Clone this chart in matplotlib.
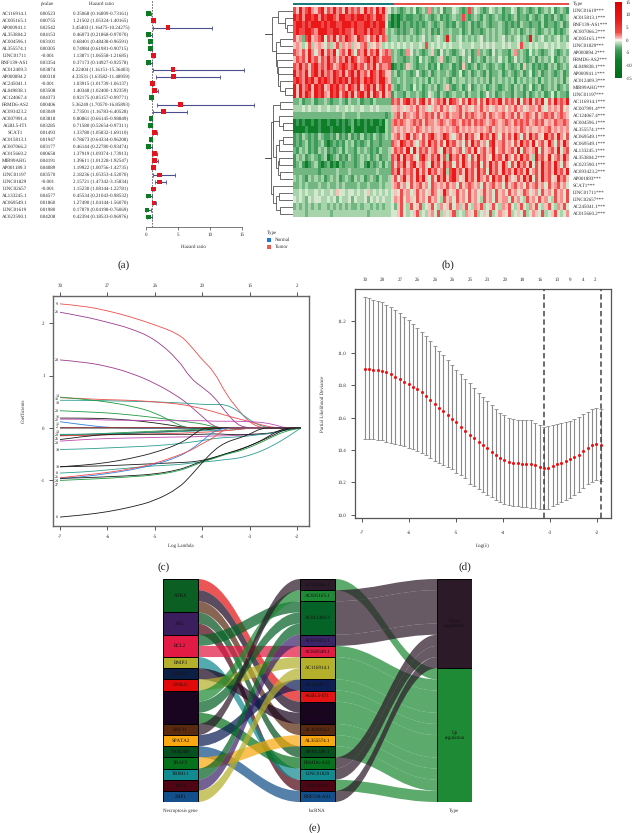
import matplotlib
matplotlib.use("Agg")
import matplotlib.pyplot as plt
import numpy as np
from matplotlib.cm import ScalarMappable
from matplotlib.colors import LinearSegmentedColormap, ListedColormap, Normalize
from matplotlib.patches import PathPatch, Rectangle
from matplotlib.path import Path

plt.rcParams["font.family"] = ["Liberation Serif", "DejaVu Serif"]
plt.rcParams["text.hinting"] = "no_hinting"
plt.rcParams["text.hinting_factor"] = 1

W, H = 634, 833
TXT = "#2a2a2a"
FS = 3.8

# (a) forest plot
lnc_names = ["AC116914.1", "AC005165.1", "AP000941.1", "AL353804.2", "AC004596.1", "AL355574.1",
             "LINC01711", "RNF139-AS1", "AC012409.3", "AP000894.2", "AC245041.1", "AL049838.1",
             "AC124067.4", "FRMD6-AS2", "AC093423.2", "AC007991.4", "AGBL5-IT1", "SCAT1",
             "AC015813.1", "AC007066.2", "AC015660.2", "MIR99AHG", "AP001189.3", "LINC01197",
             "LINC01829", "LINC02657", "AL133245.1", "AC069549.1", "LINC01619", "AC023590.1"]
pvalues = ["0.00523", "0.00755", "0.02542", "0.04153", "0.03101", "0.00305", "<0.001", "0.03354",
           "0.03874", "0.00318", "<0.001", "0.03508", "0.04373", "0.00406", "0.03049", "0.03818",
           "0.03285", "0.01493", "0.01947", "0.03177", "0.00658", "0.04191", "0.04089", "0.03570",
           "<0.001", "<0.001", "0.04577", "0.01860", "0.01980", "0.04208"]
hr = [0.35068, 1.21502, 3.45403, 0.46073, 0.68401, 0.74984, 1.13871, 0.37173, 4.22404, 4.33531,
      1.03915, 1.40348, 0.92175, 5.36249, 2.73501, 0.80861, 0.71580, 1.33780, 0.78673, 0.46144,
      1.37919, 1.39611, 1.19922, 2.18236, 2.15721, 1.15230, 0.45534, 1.27490, 0.17870, 0.42394]
hr_low = [0.16809, 1.05324, 1.16475, 0.21868, 0.48438, 0.61981, 1.06558, 0.14927, 1.16151, 1.63582,
          1.01739, 1.02400, 0.85157, 1.70570, 1.16783, 0.66145, 0.52654, 1.05832, 0.64334, 0.22780,
          1.09374, 1.01228, 1.00756, 1.05353, 1.47342, 1.08144, 0.21043, 1.04144, 0.04198, 0.18533]
hr_high = [0.73161, 1.40165, 10.24275, 0.97070, 0.96591, 0.90715, 1.21685, 0.92578, 15.36403, 11.48959,
           1.06137, 1.92359, 0.99771, 16.85893, 6.40528, 0.98849, 0.97311, 1.69110, 0.96208, 0.93474,
           1.73913, 1.92547, 1.42735, 4.52070, 3.15834, 1.22781, 0.98532, 1.56070, 0.76069, 0.96976]
hr_ticks = [0, 5, 10, 15]

# (b) heatmap, one digit per stripe block: 0 dark green ... 8 red
heat_rows = [
    "7586786578 5768675867 6758675868 5423212324 1232623241 2243212724 3212432312 2431232123 1232412321",
    "8786887868 7887688778 7887876887 5201012112 2123212312 1232272123 2132123212 1231221321 2312132123",
    "7887878887 8788778887 8778878788 4101021212 1212321232 1213212312 1232122321 2121322122 1312212312",
    "7877887688 8778878776 8778687787 3232121232 1232312132 2322312312 2123232321 2323123232 1232312123",
    "7562785678 4768576876 5876476857 6233232323 2342323432 8323423232 3423232342 3234232832 3423234232",
    "5653473565 4635736563 5467354653 4343434343 3437343434 3433433343 3434343343 4334733434 3343434334",
    "7657586468 5768467586 4768576846 7623212642 3212352142 3212342312 6232142322 1362321423 2123421232",
    "5767586757 6867576868 7567868757 7723221232 1423212352 1232132412 3213232423 1242321231 3232412323",
    "7686757867 6875678767 8675768576 6701212532 1223121412 2312152123 1232123213 2123152312 1213231232",
    "8676857868 6768768578 6867587687 5523123212 4212312322 3212412312 3213122312 3212312412 3123212312",
    "7876878687 8768787868 7868787688 6522323223 2323132323 2132332323 2323132323 2313232323 1323232313",
    "8586785878 5687867587 6857868578 5732123214 2312323123 5212312412 3231232123 2132312412 3123231232",
    "8586875878 6587857868 5786858758 5613221322 3212432132 1232231322 3124231232 2132213123 2312413221",
    "2231223122 3212232132 2312213222 2276757867 5785746768 5876475867 4758676857 6758476857 6847586768",
    "3334343343 3433433434 3343343433 3355654565 7565456575 6456756546 5756456564 6575645665 7546565745",
    "2222222222 2222223222 2322222222 1236757656 7567675756 7566757676 5675765675 6757567657 5676756765",
    "0101001010 0100101012 0101010010 3267676567 6757665676 5676576757 6765676567 6576767567 6756576676",
    "0000100010 0010001002 0001000100 3265656565 7656565565 6567565656 5656756565 6565765655 6567565656",
    "1213212132 1121312131 2131213212 3256756857 6475786568 7546758675 4867586475 7586475867 5486758647",
    "1212312123 1012121323 1212312212 2276587675 4675867574 8675647586 7564785675 6475867584 6758647586",
    "2132312132 3121231322 1323212132 2357675848 5767567548 6756746758 4675684675 6758476568 4756758467",
    "1323123212 3012312132 1232312312 2376858675 4786576857 3867586475 8675486758 6475867538 6758467586",
    "1231012310 1201021222 1231021231 3275768578 5675486758 6747586576 8475867586 4758675847 5867586475",
    "2222222212 2222322232 2222222322 2276857675 8575867568 3786758675 8674867586 7586758467 5867586758",
    "3232132323 1232312321 3231232132 2357468575 8685475868 5786458675 8657486758 6457586847 5867458675",
    "2232322232 2322323222 2322322232 3356756475 6756476565 7564756765 6475675647 5675647567 5647567564",
    "3343433434 3343544344 3434534343 4345475645 7564576458 6457564756 4575647564 7564576456 4756475647",
    "4343243443 3434243342 4334243434 3346574654 7564756437 5647564756 4375647566 4756437564 7564375647",
    "2323232323 3232323232 2323323232 3342574374 5734574364 5746357436 5734574365 7435743657 4357436574",
    "3333233333 3323333333 3333233333 3344574345 7343564735 4573436547 3454734654 7345473465 4734574346",
]
digit_values = [-8, -4, -2.6, -1.6, -0.6, 0.6, 1.6, 3, 8]
heat_labels = ["LINC01619", "AC015813.1", "RNF139-AS1", "AC007066.2", "AC005165.1", "LINC01829",
               "AP000894.2", "FRMD6-AS2", "AL049838.1", "AP000941.1", "AC012409.3", "MIR99AHG",
               "LINC01197", "AC116914.1", "AC007991.4", "AC124067.4", "AC004596.1", "AL355574.1",
               "AC069549.1", "AC069549.1", "AL133245.1", "AL353804.2", "AC023590.1", "AC093423.2",
               "AP001893", "SCAT1", "LINC01711", "LINC02657", "AC245041.1", "AC015660.2"]
type_blocks = [33, 57]
cbar_ticks = [15, 10, 5, 0, -5, -10, -15]
cmap_values = [-15, -8, -4, -2.6, -1.6, -0.6, 0, 0.6, 1.6, 3, 8, 15]
cmap_colors = ["#006b1a", "#0f7f2a", "#3f9c5a", "#74b884", "#a8d4ac", "#d8e8d0", "#ffffff",
               "#f6c6be", "#f88f8c", "#f04a4a", "#ea1a1a", "#dd0000"]
# nested merges: (height, upper, lower), height 0 at the heatmap, 1 far left
tree_top = (.75, (.55, 0, (.3, 1, (.2, 2, 3))),
            (.62, (.45, 4, 5), (.6, 6, (.58, 7, (.55, 8, (.52, 9, (.45, 10, (.3, 11, 12))))))))
tree_bottom = (.78, (.72, (.48, 13, 14),
                     (.7, (.5, 15, (.35, 16, 17)),
                      (.62, (.5, (.35, 18, 19), 20), (.55, (.5, 21, 22), (.45, 23, 24))))),
               (.7, 25, (.6, (.5, 26, 27), (.45, 28, 29))))

# (c) lasso paths
lasso_x = [-7, -6.5, -6, -5.5, -5, -4.5, -4.25, -4, -3.75, -3.5, -3.25, -3, -2.75, -2.5, -2.25, -1.92]
lasso_paths = [
    ("#ef4b4b", [2.37, 2.33, 2.24, 2.12, 1.97, 1.80, 1.58, 1.30, 1.08, .65, .36, .10, 0, 0, 0, 0]),
    ("#9b3a8e", [2.21, 2.13, 2.02, 1.90, 1.70, 1.30, .95, .78, .60, .30, .05, 0, 0, 0, 0, 0]),
    ("#9b3a8e", [1.30, 1.26, 1.18, 1.05, .86, .60, .42, .22, .02, 0, 0, 0, 0, 0, 0, 0]),
    ("#2a9d8f", [.53, .53, .52, .51, .50, .48, .47, .45, .45, .45, .33, .15, .03, 0, 0, 0]),
    ("#ef4b4b", [.58, .56, .54, .53, .50, .46, .42, .37, .31, .24, .18, .12, .06, .01, 0, 0]),
    ("#1f9a3f", [.59, .55, .50, .42, .30, .05, 0, 0, 0, 0, 0, 0, 0, 0, 0, 0]),
    ("#1f9a3f", [.33, .31, .29, .25, .20, .14, .11, .08, .02, 0, 0, 0, 0, 0, 0, 0]),
    ("#1a1a1a", [.19, .19, .18, .15, .10, .03, 0, 0, 0, 0, 0, 0, 0, 0, 0, 0]),
    ("#c247b0", [.17, .17, .15, .15, .14, .14, .14, .14, .13, .13, .13, .12, .11, .07, 0, 0]),
    ("#2f7fe0", [.12, .06, .01, 0, 0, 0, 0, 0, 0, 0, 0, 0, 0, 0, 0, 0]),
    ("#ef4b4b", [.01, .01, .01, .01, .01, .01, .01, .01, .01, .01, .01, 0, 0, 0, 0, 0]),
    ("#1a1a1a", [0, 0, 0, 0, 0, 0, 0, 0, 0, 0, 0, 0, 0, 0, 0, 0]),
    ("#1f9a3f", [-.13, -.12, -.10, -.08, -.06, -.04, -.03, -.02, -.01, 0, 0, 0, 0, 0, 0, 0]),
    ("#1a1a1a", [-.14, -.14, -.12, -.10, -.08, -.06, -.05, -.04, -.02, 0, 0, 0, 0, 0, 0, 0]),
    ("#2a9d8f", [-.12, -.12, -.11, -.10, -.08, -.07, -.06, -.05, -.05, -.04, -.03, 0, 0, 0, 0, 0]),
    ("#ef4b4b", [-.15, -.14, -.13, -.12, -.11, -.10, -.09, -.08, -.07, -.05, -.03, 0, 0, 0, 0, 0]),
    ("#c247b0", [-.25, -.22, -.20, -.19, -.18, -.17, -.17, -.16, -.15, -.15, -.14, -.13, -.12, -.10, -.03, 0]),
    ("#1a1a1a", [-.22, -.16, -.12, -.12, -.12, -.12, -.12, -.12, -.11, -.12, -.13, -.12, -.11, -.09, -.02, 0]),
    ("#2a9d8f", [-.41, -.40, -.38, -.36, -.34, -.30, -.27, -.24, -.20, -.18, -.17, -.15, -.12, -.10, -.04, 0]),
    ("#1a1a1a", [-.74, -.71, -.66, -.58, -.47, -.31, -.17, 0, 0, 0, 0, 0, 0, 0, 0, 0]),
    ("#1a1a1a", [-.74, -.73, -.72, -.70, -.68, -.66, -.65, -.62, -.56, -.49, -.42, -.34, -.24, -.14, -.02, 0]),
    ("#2a9d8f", [-.86, -.84, -.80, -.76, -.72, -.70, -.67, -.65, -.63, -.60, -.58, -.52, -.44, -.33, -.20, 0]),
    ("#2f7fe0", [-.97, -.93, -.87, -.80, -.70, -.55, -.42, -.25, -.05, 0, 0, 0, 0, 0, 0, 0]),
    ("#ef4b4b", [-.95, -.90, -.85, -.78, -.68, -.52, -.43, -.30, -.18, 0, 0, 0, 0, 0, 0, 0]),
    ("#1a1a1a", [-.96, -.95, -.93, -.91, -.88, -.80, -.72, -.63, -.57, -.49, -.43, -.34, -.24, -.10, 0, 0]),
    ("#1f9a3f", [-1.00, -.98, -.96, -.93, -.90, -.82, -.74, -.65, -.58, -.50, -.45, -.37, -.27, -.16, -.06, 0]),
    ("#1a1a1a", [-1.70, -1.66, -1.60, -1.51, -1.39, -1.15, -.92, -.66, -.42, -.27, -.20, -.12, 0, 0, 0, 0]),
]
lasso_tags = [("9", 2.37), ("26", 2.21), ("29", 1.30), ("14", .62), ("30", .55), ("10", .48), ("20", .33),
              ("16", .22), ("22", .15), ("11", .08), ("2", .01), ("13", -.07), ("28", -.14), ("25", -.21),
              ("23", -.28), ("19", -.41), ("18", -.74), ("8", -.86), ("21", -.94), ("24", -1.01),
              ("27", -1.08), ("6", -1.70)]
lasso_top_ticks = [-7, -6, -5, -4, -3, -2]
lasso_top_labels = ["30", "27", "26", "20", "15", "2"]

# (d) cross validation
cv_log = [-6.94, -6.85, -6.76, -6.66, -6.57, -6.48, -6.38, -6.29, -6.20, -6.10, -6.01, -5.92, -5.83, -5.73,
          -5.64, -5.55, -5.45, -5.36, -5.27, -5.17, -5.08, -4.99, -4.90, -4.80, -4.71, -4.62, -4.52, -4.43,
          -4.34, -4.24, -4.15, -4.06, -3.97, -3.87, -3.78, -3.69, -3.59, -3.50, -3.41, -3.31, -3.22, -3.13,
          -3.04, -2.94, -2.85, -2.76, -2.66, -2.57, -2.48, -2.38, -2.29, -2.20, -2.11, -2.01, -1.92]
cv_mean = [10.903, 10.901, 10.897, 10.893, 10.889, 10.881, 10.868, 10.854, 10.840, 10.823, 10.809, 10.792,
           10.776, 10.757, 10.737, 10.712, 10.685, 10.660, 10.640, 10.617, 10.595, 10.572, 10.545, 10.521,
           10.496, 10.475, 10.451, 10.430, 10.412, 10.389, 10.368, 10.352, 10.337, 10.327, 10.323, 10.319,
           10.315, 10.315, 10.315, 10.307, 10.294, 10.288, 10.292, 10.300, 10.311, 10.321, 10.333, 10.344,
           10.356, 10.370, 10.393, 10.414, 10.430, 10.440, 10.432]
cv_upper = [11.344, 11.338, 11.330, 11.322, 11.313, 11.300, 11.285, 11.265, 11.245, 11.225, 11.205, 11.182,
            11.157, 11.132, 11.105, 11.075, 11.042, 11.012, 10.985, 10.955, 10.925, 10.897, 10.868, 10.840,
            10.812, 10.782, 10.755, 10.728, 10.702, 10.677, 10.655, 10.632, 10.615, 10.600, 10.592, 10.587,
            10.585, 10.585, 10.585, 10.570, 10.552, 10.545, 10.550, 10.555, 10.562, 10.568, 10.575, 10.582,
            10.590, 10.603, 10.620, 10.637, 10.655, 10.663, 10.656]
cv_lower = [10.469, 10.468, 10.467, 10.465, 10.460, 10.453, 10.446, 10.440, 10.432, 10.424, 10.413, 10.405,
            10.397, 10.385, 10.372, 10.352, 10.331, 10.320, 10.306, 10.293, 10.280, 10.261, 10.243, 10.225,
            10.192, 10.175, 10.160, 10.142, 10.125, 10.108, 10.092, 10.078, 10.064, 10.059, 10.056, 10.053,
            10.050, 10.047, 10.044, 10.040, 10.036, 10.033, 10.036, 10.053, 10.066, 10.079, 10.092, 10.105,
            10.120, 10.140, 10.163, 10.190, 10.204, 10.218, 10.208]
cv_top_pos = [-6.94, -6.57, -6.19, -5.82, -5.45, -5.08, -4.70, -4.33, -3.96, -3.59, -3.20, -2.84, -2.57, -2.30, -2.04]
cv_top_labels = ["30", "28", "27", "26", "26", "26", "25", "23", "20", "18", "16", "13", "9", "4", "2"]
cv_vlines = [-3.13, -1.92]

# (e) sankey
gene_names = ["ATRX", "AXL", "BCL2", "BNIP3", "CYLD", "FASLG", "FLT3", "RNF31", "SPATA2", "TARDBP",
              "TRAF2", "TRIM11", "TSC1", "ZBP1"]
gene_sizes = [3, 2, 2, 1, 1, 1, 3, 1, 1, 1, 1, 1, 1, 1]
gene_colors = ["#0b5f22", "#3a1e5e", "#e31a44", "#b5b02c", "#0e1f45", "#e00a0a", "#1a0520", "#5a2a10",
               "#f9a80f", "#06501f", "#07721c", "#118a90", "#4f0514", "#134f8a"]
sankey_lnc = ["AC004596.1", "AC005165.1", "AC012409.3", "AC015813.1", "AC069549.1", "AC116914.1",
              "AC119897.6", "AGBL5-IT1", "AL135878.1", "AL303014.2", "AL355574.1", "AP001189.3",
              "FRMD6-AS2", "LINC01829", "LINC02657", "RNF139-AS1"]
lnc_sizes = [1, 1, 3, 1, 1, 2, 1, 1, 2, 1, 1, 1, 1, 1, 1, 1]
lnc_colors = ["#2c1a2a", "#1f8a35", "#066327", "#3c2468", "#e31a44", "#b5b02c", "#0e1f55", "#e51414",
              "#1a0520", "#5a2a10", "#f9a80f", "#06501f", "#07721c", "#118a90", "#4f0514", "#134f8a"]
# target lncRNA index for each unit of the gene column, top to bottom
gene_targets = [7, 8, 9, 11, 14, 2, 4, 13, 8, 5, 1, 2, 12, 0, 6, 15, 10, 2, 3, 5]
lnc_types = [1, 0, 0, 0, 1, 1, 1, 1, 1, 1, 1, 1, 0, 0, 1, 0]
type_names = ["Down\nregulation", "Up\nregulation"]
type_sizes = [8, 12]
type_colors = ["#2c1a28", "#1f8a35"]


def axes_px(x0, y0, x1, y1):
    return fig.add_axes([x0 / W, 1 - y1 / H, (x1 - x0) / W, (y1 - y0) / H])


def draw_tree(ax, node):
    # returns (row position, height) of the merge
    if not isinstance(node, tuple):
        return node, 0
    h, up, low = node
    y_a, h_a = draw_tree(ax, up)
    y_b, h_b = draw_tree(ax, low)
    ax.plot([h_a, h, h, h_b], [y_a, y_a, y_b, y_b], color="#555555", lw=0.6, solid_joinstyle="miter")
    return (y_a + y_b) / 2, h


def smooth_line(ax, xs, ys, color):
    # quadratic segments between midpoints, so the corners of the read values round off
    pts = list(zip(xs, ys))
    verts = [pts[0]]
    codes = [Path.MOVETO]
    for a, b in zip(pts[1:-1], pts[2:]):
        verts += [a, ((a[0] + b[0]) / 2, (a[1] + b[1]) / 2)]
        codes += [Path.CURVE3, Path.CURVE3]
    verts.append(pts[-1])
    codes.append(Path.LINETO)
    ax.add_patch(PathPatch(Path(verts, codes), facecolor="none", edgecolor=color, lw=0.6))


def ribbon(ax, x0, x1, y0a, y0b, y1a, y1b, color):
    xa = x0 + 0.4 * (x1 - x0)
    xb = x0 + 0.6 * (x1 - x0)
    verts = [(x0, y0a), (xa, y0a), (xb, y1a), (x1, y1a), (x1, y1b), (xb, y1b), (xa, y0b), (x0, y0b), (x0, y0a)]
    codes = [Path.MOVETO, Path.CURVE4, Path.CURVE4, Path.CURVE4, Path.LINETO,
             Path.CURVE4, Path.CURVE4, Path.CURVE4, Path.CLOSEPOLY]
    ax.add_patch(PathPatch(Path(verts, codes), facecolor=color, edgecolor="none", alpha=0.72))


def draw_nodes(ax, x, sizes, colors, labels, half=0.127):
    top = 0
    for n, c, lab in zip(sizes, colors, labels):
        ax.add_patch(Rectangle((x - half, top), 2 * half, n, facecolor=c, edgecolor="black", lw=0.7, zorder=5))
        ax.text(x, top + n / 2, lab, ha="center", va="center", fontsize=FS, color="#111111", zorder=6)
        top += n


def panel_label(x, y, s):
    fig.text(x / W, 1 - y / H, s, ha="center", va="center", fontsize=8, color="#222222")


fig = plt.figure(figsize=(W / 100, H / 100), dpi=100)

# (a)
row_y = np.arange(len(lnc_names))
ax = axes_px(143, 0, 258, 227)
ax.set_xlim(-2.9 / 6.42, 15 + 16 / 6.42)
ax.set_ylim(30.43, -1.95)
ax.axvline(1, color="#555555", lw=0.6, ls=(0, (2, 1.5)), zorder=1)
ax.errorbar(hr, row_y, xerr=[np.array(hr) - np.array(hr_low), np.array(hr_high) - np.array(hr)],
            fmt="none", ecolor="#4a4f8f", elinewidth=0.8, capsize=1.2, capthick=0.6, zorder=2)
ax.scatter(hr, row_y, marker="s", s=12, zorder=3, linewidths=0,
           c=["#e5141c" if v > 1 else "#0b7a22" for v in hr])
for side in ["top", "left", "right"]:
    ax.spines[side].set_visible(False)
ax.spines["bottom"].set_bounds(0, 15)
ax.spines["bottom"].set_linewidth(0.5)
ax.spines["bottom"].set_color("#444444")
ax.set_yticks([])
ax.set_xticks(hr_ticks)
ax.tick_params(axis="x", length=2, width=0.5, pad=2, labelsize=FS, labelcolor=TXT, color="#444444")
ax.patch.set_alpha(0)
fig.text(193 / W, 1 - 247 / H, "Hazard ratio", ha="center", va="center", fontsize=FS, color=TXT)
fig.text(48 / W, 1 - 3.5 / H, "pvalue", ha="center", va="center", fontsize=FS, color=TXT)
fig.text(101 / W, 1 - 3.5 / H, "Hazard ratio", ha="center", va="center", fontsize=FS, color=TXT)
for i, name in enumerate(lnc_names):
    y = 1 - (13.7 + 7.01 * i) / H
    fig.text(15 / W, y, name, ha="center", va="center", fontsize=FS, color=TXT)
    fig.text(48 / W, y, pvalues[i], ha="center", va="center", fontsize=FS, color=TXT)
    fig.text(101 / W, y, f"{hr[i]:.5f} ({hr_low[i]:.5f}-{hr_high[i]:.5f})",
             ha="center", va="center", fontsize=FS, color=TXT)

# (b)
cmap = LinearSegmentedColormap.from_list("heat", [((v + 15) / 30, c) for v, c in zip(cmap_values, cmap_colors)])
norm = Normalize(-15, 15)
digits = np.array([[int(ch) for ch in row.replace(" ", "")] for row in heat_rows])
heat = np.array(digit_values)[digits]
ax = axes_px(293, 7, 569, 217)
ax.imshow(heat, aspect="auto", cmap=cmap, norm=norm, interpolation="nearest")
ax.axis("off")

ax = axes_px(293, 2.5, 569, 5.5)
bar_cells = np.repeat([0, 1], type_blocks)[None, :]
ax.imshow(bar_cells, aspect="auto", cmap=ListedColormap(["#1a7b7a", "#e8504a"]), interpolation="nearest")
ax.axis("off")
fig.text(573 / W, 1 - 4 / H, "Type", ha="left", va="center", fontsize=FS, color=TXT)
for i, name in enumerate(heat_labels):
    fig.text(573 / W, 1 - (10.5 + 7 * i) / H, name + "***", ha="left", va="center", fontsize=FS, color=TXT)

ax = axes_px(265, 7, 293, 217)
ax.set_xlim(1, 0)
ax.set_ylim(29.5, -0.5)
for tree in [tree_top, tree_bottom]:
    y_root, h_root = draw_tree(ax, tree)
    ax.plot([h_root, 1], [y_root, y_root], color="#333333", lw=0.6)
ax.axis("off")

cax = axes_px(615, 2, 622, 78)
cb = fig.colorbar(ScalarMappable(norm=norm, cmap=cmap), cax=cax, ticks=cbar_ticks)
cb.outline.set_visible(False)
cb.ax.tick_params(length=0, pad=2.5, labelsize=FS, labelcolor=TXT)
cb.ax.set_yticklabels([str(t) for t in cbar_ticks])

# type legend
fig.text(267 / W, 1 - 233 / H, "Type", ha="left", va="center", fontsize=FS, color=TXT)
fig.text(275 / W, 1 - 240 / H, "Normal", ha="left", va="center", fontsize=FS, color=TXT)
fig.text(275 / W, 1 - 247 / H, "Tumor", ha="left", va="center", fontsize=FS, color=TXT)
ax = axes_px(266, 237, 272, 250)
ax.set_xlim(0, 1)
ax.set_ylim(1, 0)
ax.scatter([0.5, 0.5], [0.23, 0.77], marker="s", s=8, c=["#1f78d8", "#ee5a50"], linewidths=0)
ax.axis("off")

# (c)
ax = axes_px(53, 296, 309, 526)
for color, vals in lasso_paths:
    smooth_line(ax, lasso_x, vals, color)
ax.set_xlim(-7.148, -1.747)
ax.set_ylim(-1.87, 2.52)
for tag, y in lasso_tags:
    ax.text(-7.06, y, tag, ha="center", va="center", fontsize=2.8, color="#111111")
ax.set_xticks([-7, -6, -5, -4, -3, -2])
ax.set_yticks([-1, 0, 1, 2])
for s in ax.spines.values():
    s.set_color("#666666")
    s.set_linewidth(1)
ax.tick_params(length=3, width=0.7, pad=3, labelsize=FS, labelcolor=TXT, color="#555555")
ax.set_yticklabels(["-1", "0", "1", "2"])
ax.set_xticklabels(["-7", "-6", "-5", "-4", "-3", "-2"])
ax.set_xlabel("Log Lambda", fontsize=FS, color=TXT, labelpad=3)
ax.set_ylabel("Coefficients", fontsize=FS, color=TXT)
ax.yaxis.set_label_coords(-27 / 256, 0.5)
top = ax.secondary_xaxis("top")
top.set_xticks(lasso_top_ticks)
top.set_xticklabels(lasso_top_labels)
top.tick_params(length=3, width=0.7, pad=3, labelsize=FS, labelcolor=TXT, color="#555555")
top.spines["top"].set_visible(False)

# (d)
ax = axes_px(355, 289, 611, 518)
ax.errorbar(cv_log, cv_mean, yerr=[np.array(cv_mean) - np.array(cv_lower), np.array(cv_upper) - np.array(cv_mean)],
            fmt="none", ecolor="#8a8a8a", elinewidth=0.8, capsize=1.4, capthick=0.6, zorder=2)
ax.scatter(cv_log, cv_mean, s=5, color="#ee1111", linewidths=0, zorder=3)
for v in cv_vlines:
    ax.axvline(v, color="#444444", lw=1.1, ls=(0, (3.5, 2)), zorder=4)
ax.set_xlim(-7.149, -1.70)
ax.set_ylim(9.98, 11.396)
ax.set_xticks([-7, -6, -5, -4, -3, -2])
ax.set_yticks([10.0, 10.2, 10.4, 10.6, 10.8, 11.0, 11.2])
ax.set_yticklabels(["10.0", "10.2", "10.4", "10.6", "10.8", "11.0", "11.2"])
ax.set_xticklabels(["-7", "-6", "-5", "-4", "-3", "-2"])
for s in ax.spines.values():
    s.set_color("#555555")
    s.set_linewidth(0.9)
ax.tick_params(axis="x", length=3, width=0.7, pad=6, labelsize=FS, labelcolor=TXT, color="#555555")
ax.tick_params(axis="y", length=3, width=0.7, pad=3.5, labelsize=FS, labelcolor=TXT, color="#555555")
ax.set_xlabel("Log(λ)", fontsize=FS, color=TXT, labelpad=6)
ax.set_ylabel("Partial Likelihood Deviance", fontsize=FS, color=TXT)
ax.yaxis.set_label_coords(-30 / 256, 0.5)
top = ax.secondary_xaxis("top")
top.set_xticks(cv_top_pos)
top.set_xticklabels(cv_top_labels)
top.tick_params(length=0, pad=5, labelsize=FS, labelcolor=TXT)
top.spines["top"].set_visible(False)

# (e)
ax = axes_px(163, 579, 472, 802)
ax.set_xlim(-0.127, 2.127)
ax.set_ylim(20, 0)
ax.axis("off")
half = 0.127

lnc_top = np.cumsum([0] + lnc_sizes[:-1])
lnc_used = [0] * len(lnc_sizes)
for unit, target in enumerate(gene_targets):
    y1 = lnc_top[target] + lnc_used[target]
    lnc_used[target] += 1
    ribbon(ax, half, 1 - half, unit, unit + 1, y1, y1 + 1, lnc_colors[target])

type_top = [0, type_sizes[0]]
type_used = [0, 0]
unit = 0
for size, kind in zip(lnc_sizes, lnc_types):
    y1 = type_top[kind] + type_used[kind]
    type_used[kind] += size
    ribbon(ax, 1 + half, 2 - half, unit, unit + size, y1, y1 + size, type_colors[kind])
    unit += size

draw_nodes(ax, 0, gene_sizes, gene_colors, gene_names)
draw_nodes(ax, 1, lnc_sizes, lnc_colors, sankey_lnc)
draw_nodes(ax, 2, type_sizes, type_colors, type_names)
for x, s in [(180, "Necroptosis gene"), (317, "lncRNA"), (454, "Type")]:
    fig.text(x / W, 1 - 811 / H, s, ha="center", va="center", fontsize=FS, color=TXT)

panel_label(124, 265, "(a)")
panel_label(448, 265, "(b)")
panel_label(164, 567, "(c)")
panel_label(465, 567, "(d)")
panel_label(315, 828, "(e)")

fig.savefig("out.png", dpi=100)
